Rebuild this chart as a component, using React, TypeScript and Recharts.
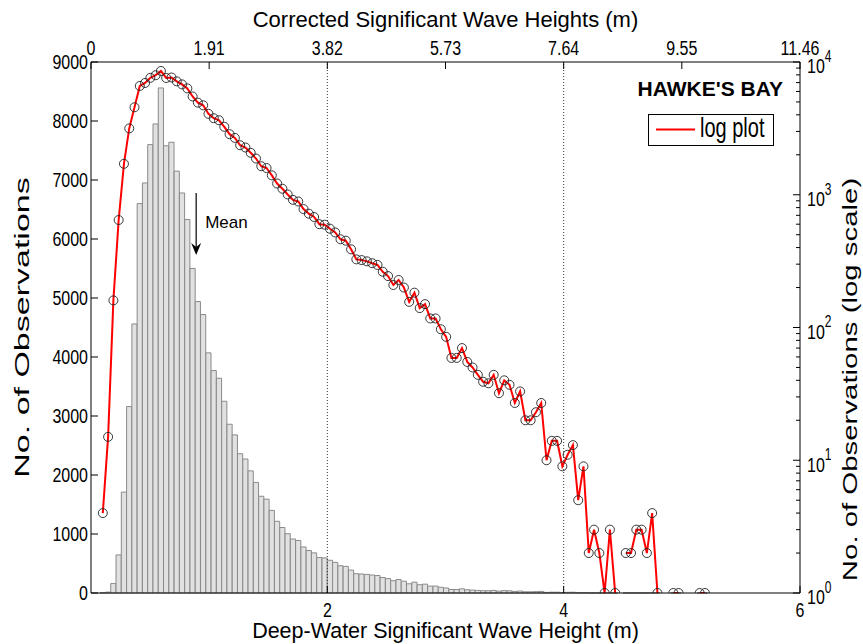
import React from "react";
import { Bar, ComposedChart, Legend, Line, ReferenceLine, XAxis, YAxis } from "recharts";

// histogram bins (deep-water Hs, m)
const binStart = 0.1;
const binWidth = 0.0447;

const binCounts = [
  4, 15, 160, 645, 1710, 3160, 4560, 6600, 6950, 7600,
  7950, 8560, 7580, 7640, 7150, 6780, 6330, 5500, 4940, 4720,
  4070, 3770, 3640, 3250, 2860, 2680, 2360, 2270, 2070, 1875,
  1640, 1590, 1400, 1215, 1110, 1005, 915, 890, 780, 720,
  680, 600, 595, 555, 520, 462, 451, 388, 326, 322,
  315, 305, 296, 263, 244, 209, 228, 200, 156, 183,
  140, 150, 117, 117, 97, 85, 59, 59, 70, 55,
  50, 44, 39, 38, 44, 32, 40, 37, 27, 33,
  20, 20, 23, 27, 10, 14, 14, 9, 11, 13,
  5, 9, 2, 3, 2, 1, 3, 1, 0, 2,
  2, 3, 3, 2, 4, 1, 0, 0, 1, 1,
  0, 0, 0, 1, 1,
];

const leftTicks = [0, 1000, 2000, 3000, 4000, 5000, 6000, 7000, 8000, 9000];
const bottomTicks = [2, 4, 6];
const topTicks = [0, 1, 2, 3, 4, 5, 6];
const topTickLabels = ["0", "1.91", "3.82", "5.73", "7.64", "9.55", "11.46"];
const decades = [1, 10, 100, 1000];
const minorSteps = [1, 2, 3, 4, 5, 6, 7, 8, 9];
const meanHs = 0.89;

const rows = binCounts.map((count, i) => ({
  hs: +(binStart + i * binWidth).toFixed(4),
  count,
  logCount: count > 0 ? count : null,
}));

const rightTicks = [...decades.flatMap((d) => minorSteps.map((m) => d * m)), 10000];

const FONT = "'Liberation Sans', Arial, Helvetica, sans-serif";
const TICK_SY = 1.3;

// text drawn with a vertical stretch about its anchor point (the reference glyphs are tall and narrow)
const SText = ({ x, y, sy = 1, rotate = 0, children, ...rest }: any) => (
  <text
    transform={`translate(${x},${y}) scale(1,${sy})${rotate ? ` rotate(${rotate})` : ""}`}
    fill="#000"
    fontFamily={FONT}
    {...rest}
  >
    {children}
  </text>
);

const LeftTick = (props: any) => {
  const { x, y, payload } = props;
  return (
    <g>
      <line x1={x} y1={y} x2={x + 7} y2={y} stroke="#000" />
      <SText x={x - 3} y={y} sy={TICK_SY} dy="0.36em" textAnchor="end" fontSize={16}>
        {payload.value}
      </SText>
    </g>
  );
};

const RightTick = (props: any) => {
  const { x, y, payload } = props;
  const v = payload.value;
  const exp = Math.log10(v);
  const major = Math.abs(exp - Math.round(exp)) < 1e-9;
  if (!major) return <line x1={x} y1={y} x2={x - 4} y2={y} stroke="#000" />;
  return (
    <g>
      <line x1={x} y1={y} x2={x - 7} y2={y} stroke="#000" />
      <SText x={x + 7} y={y} sy={TICK_SY} dy="0.55em" fontSize={16}>
        10
        <tspan dy="-0.75em" fontSize={12}>
          {Math.round(exp)}
        </tspan>
      </SText>
    </g>
  );
};

const BottomTick = (props: any) => {
  const { x, y, payload } = props;
  return (
    <g>
      <line x1={x} y1={y} x2={x} y2={y - 7} stroke="#000" />
      <SText x={x} y={y + 24} sy={TICK_SY} textAnchor="middle" fontSize={16}>
        {payload.value}
      </SText>
    </g>
  );
};

const TopTick = (props: any) => {
  const { x, y, payload } = props;
  const label = topTickLabels[topTicks.indexOf(payload.value)];
  return (
    <g>
      <line x1={x} y1={y} x2={x} y2={y + 7} stroke="#000" />
      <SText x={x} y={y - 7} sy={TICK_SY} textAnchor="middle" fontSize={16}>
        {label}
      </SText>
    </g>
  );
};

const bottomLabel = (props: any) => {
  const vb = props.viewBox;
  return (
    <SText x={vb.x + vb.width / 2} y={vb.y + 45} textAnchor="middle" fontSize={21.5}>
      Deep-Water Significant Wave Height (m)
    </SText>
  );
};

const topLabel = (props: any) => {
  const vb = props.viewBox;
  return (
    <SText x={vb.x + vb.width / 2} y={vb.y + 27} textAnchor="middle" fontSize={22}>
      Corrected Significant Wave Heights (m)
    </SText>
  );
};

const leftLabel = (props: any) => {
  const vb = props.viewBox;
  return (
    <SText
      x={vb.x + 22}
      y={vb.y + vb.height / 2}
      sy={1.62}
      rotate={-90}
      textAnchor="middle"
      dominantBaseline="central"
      fontSize={21}
    >
      No. of Observations
    </SText>
  );
};

const rightLabel = (props: any) => {
  const vb = props.viewBox;
  return (
    <SText
      x={vb.x + 50}
      y={vb.y + vb.height / 2 + 52}
      sy={1.4}
      rotate={-90}
      textAnchor="middle"
      dominantBaseline="central"
      fontSize={21}
    >
      No. of Observations (log scale)
    </SText>
  );
};

const MarkerDot = (props: any) => {
  const { cx, cy, value, index } = props;
  if (value == null || cy == null) return <g key={`m-${index}`} />;
  return <circle key={`m-${index}`} cx={cx} cy={cy} r={4.5} fill="none" stroke="#222" strokeWidth={0.9} />;
};

const MeanArrow = (props: any) => {
  const { x1, y1, x2, y2 } = props;
  return (
    <g>
      <line x1={x1} y1={y1} x2={x2} y2={y2 - 8} stroke="#000" strokeWidth={1.2} />
      <path d={`M${x2 - 5},${y2 - 12} L${x2},${y2} L${x2 + 5},${y2 - 12} L${x2},${y2 - 8} Z`} fill="#000" />
      <SText x={x1 + 9} y={y1 + 35} fontSize={17}>
        Mean
      </SText>
    </g>
  );
};

const LegendBox = () => (
  <svg width={150} height={75} style={{ display: "block", overflow: "visible" }}>
    <SText x={147} y={17.5} textAnchor="end" fontSize={21} fontWeight="bold">
      HAWKE'S BAY
    </SText>
    <rect x={12.5} y={36.5} width={125} height={31} fill="#fff" stroke="#000" />
    <line x1={20} y1={51.5} x2={59} y2={51.5} stroke="#ff0000" strokeWidth={2} />
    <SText x={64} y={59} sy={1.35} fontSize={20}>
      log plot
    </SText>
  </svg>
);

export default function App() {
  return (
    <div style={{ position: "absolute", left: 0, top: 0, width: 863, height: 644, background: "#fff" }}>
      <ComposedChart width={863} height={644} data={rows} margin={{ top: 0, right: 0, bottom: 0, left: 0 }}>
        <XAxis
          xAxisId="bottom"
          dataKey="hs"
          type="number"
          domain={[0, 6]}
          ticks={bottomTicks}
          height={51}
          stroke="#000"
          tickSize={0}
          tickMargin={0}
          tick={<BottomTick />}
          label={{ content: bottomLabel }}
        />
        <XAxis
          xAxisId="top"
          orientation="top"
          dataKey="hs"
          type="number"
          domain={[0, 6]}
          ticks={topTicks}
          height={62}
          stroke="#000"
          tickSize={0}
          tickMargin={0}
          tick={<TopTick />}
          label={{ content: topLabel }}
        />
        <YAxis
          yAxisId="left"
          domain={[0, 9000]}
          ticks={leftTicks}
          width={91}
          stroke="#000"
          tickSize={0}
          tickMargin={0}
          tick={<LeftTick />}
          label={{ content: leftLabel }}
        />
        <YAxis
          yAxisId="right"
          orientation="right"
          scale="log"
          domain={[1, 10000]}
          allowDataOverflow
          ticks={rightTicks}
          interval={0}
          width={63}
          stroke="#000"
          tickSize={0}
          tickMargin={0}
          tick={<RightTick />}
          label={{ content: rightLabel }}
        />
        <Legend
          layout="horizontal"
          verticalAlign="middle"
          align="center"
          content={<LegendBox />}
          wrapperStyle={{ position: "absolute", left: 636, top: 78, width: 150, height: 75 }}
        />
        <ReferenceLine xAxisId="bottom" yAxisId="left" x={2} stroke="#333" strokeDasharray="1 2" />
        <ReferenceLine xAxisId="bottom" yAxisId="left" x={4} stroke="#333" strokeDasharray="1 2" />
        <Bar
          xAxisId="bottom"
          yAxisId="left"
          dataKey="count"
          barSize={5.2}
          fill="#e1e1e1"
          stroke="#8a8a8a"
          strokeWidth={1}
          isAnimationActive={false}
        />
        <ReferenceLine
          xAxisId="bottom"
          yAxisId="left"
          segment={[
            { x: meanHs, y: 6780 },
            { x: meanHs, y: 5730 },
          ]}
          shape={<MeanArrow />}
        />
        <Line
          xAxisId="top"
          yAxisId="right"
          dataKey="logCount"
          stroke="none"
          dot={<MarkerDot />}
          activeDot={false}
          legendType="none"
          isAnimationActive={false}
        />
        <Line
          xAxisId="top"
          yAxisId="right"
          dataKey="logCount"
          name="log plot"
          stroke="#ff0000"
          strokeWidth={2}
          dot={false}
          activeDot={false}
          connectNulls={false}
          isAnimationActive={false}
        />
      </ComposedChart>
    </div>
  );
}
